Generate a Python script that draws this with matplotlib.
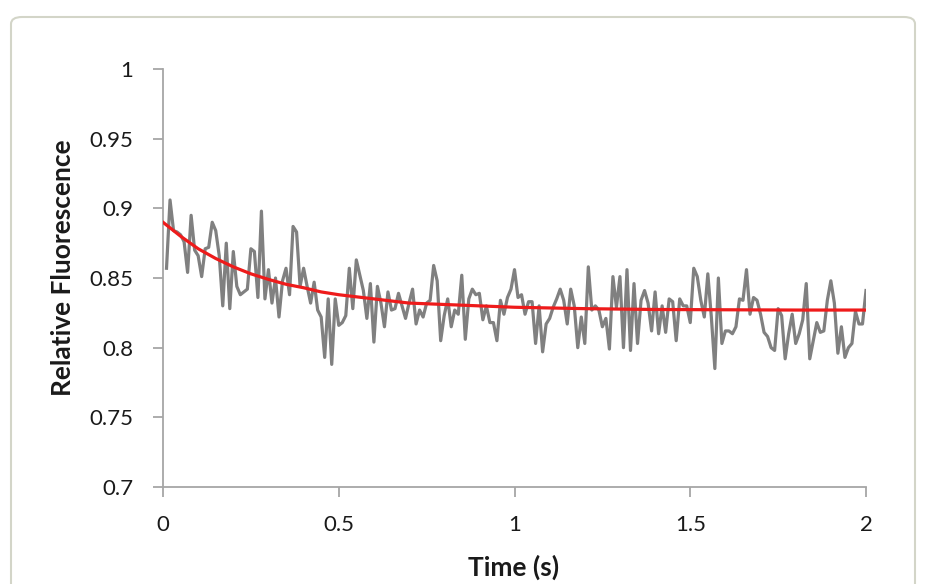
import matplotlib
matplotlib.use("Agg")
import matplotlib.pyplot as plt
import numpy as np
from matplotlib.patches import FancyBboxPatch

# measured trace, one sample every 10 ms (0.01 .. 2.00 s)
time_s = np.round(np.arange(1, 201) * 0.01, 2)
fluor = [
    0.857, 0.906, 0.884, 0.883, 0.881, 0.876, 0.854, 0.895, 0.870, 0.866,
    0.851, 0.871, 0.872, 0.890, 0.884, 0.866, 0.830, 0.875, 0.828, 0.869,
    0.844, 0.838, 0.840, 0.842, 0.871, 0.869, 0.836, 0.898, 0.835, 0.856,
    0.832, 0.850, 0.822, 0.848, 0.857, 0.838, 0.887, 0.883, 0.844, 0.857,
    0.844, 0.832, 0.847, 0.827, 0.822, 0.793, 0.835, 0.788, 0.835, 0.816,
    0.818, 0.823, 0.857, 0.828, 0.863, 0.852, 0.841, 0.821, 0.846, 0.804,
    0.844, 0.832, 0.815, 0.840, 0.827, 0.828, 0.839, 0.830, 0.821, 0.832,
    0.842, 0.817, 0.827, 0.822, 0.832, 0.834, 0.859, 0.848, 0.805, 0.823,
    0.835, 0.815, 0.827, 0.824, 0.852, 0.806, 0.835, 0.842, 0.838, 0.839,
    0.820, 0.830, 0.818, 0.818, 0.805, 0.834, 0.824, 0.836, 0.842, 0.856,
    0.836, 0.838, 0.824, 0.833, 0.833, 0.803, 0.830, 0.797, 0.817, 0.821,
    0.829, 0.835, 0.842, 0.834, 0.817, 0.842, 0.830, 0.800, 0.822, 0.803,
    0.858, 0.827, 0.830, 0.827, 0.815, 0.821, 0.799, 0.851, 0.829, 0.851,
    0.800, 0.856, 0.798, 0.846, 0.803, 0.834, 0.841, 0.832, 0.812, 0.840,
    0.810, 0.830, 0.811, 0.835, 0.833, 0.805, 0.835, 0.830, 0.830, 0.818,
    0.857, 0.851, 0.834, 0.822, 0.853, 0.822, 0.785, 0.850, 0.803, 0.812,
    0.812, 0.810, 0.815, 0.835, 0.834, 0.856, 0.824, 0.836, 0.834, 0.824,
    0.811, 0.808, 0.800, 0.798, 0.828, 0.823, 0.792, 0.810, 0.824, 0.803,
    0.810, 0.820, 0.846, 0.792, 0.805, 0.818, 0.811, 0.812, 0.834, 0.848,
    0.832, 0.796, 0.815, 0.793, 0.800, 0.803, 0.826, 0.817, 0.817, 0.841,
]

# fitted decay curve
fit_t = [0, 0.05, 0.1, 0.15, 0.2, 0.25, 0.3, 0.35, 0.4, 0.45, 0.5,
         0.6, 0.7, 0.8, 0.9, 1.0, 1.2, 1.4, 1.6, 1.8, 2.0]
fit_y = [0.890, 0.880, 0.871, 0.864, 0.858, 0.853, 0.849, 0.8455, 0.843, 0.840, 0.838,
         0.835, 0.832, 0.831, 0.830, 0.829, 0.828, 0.8274, 0.8272, 0.827, 0.827]

x_ticks = [0, 0.5, 1, 1.5, 2]
x_labels = ["0", "0.5", "1", "1.5", "2"]
y_ticks = [0.7, 0.75, 0.8, 0.85, 0.9, 0.95, 1]
y_labels = ["0.7", "0.75", "0.8", "0.85", "0.9", "0.95", "1"]

plt.rcParams['font.family'] = ['Lato', 'DejaVu Sans']

W, H = 925, 584
fig = plt.figure(figsize=(W / 100, H / 100), dpi=100)

# light rounded frame around the chart (kept behind the axes)
frame = FancyBboxPatch((11 / W, -0.05), 904 / W, 1 - 17 / H + 0.05,
                       boxstyle="round,pad=0,rounding_size=0.012",
                       transform=fig.transFigure, facecolor="white",
                       edgecolor="#d3d5c8", linewidth=1.5, zorder=-10)
fig.patches.append(frame)

ax = fig.add_axes([163 / W, 1 - 487 / H, 703 / W, 418 / H])
ax.set_facecolor("none")
ax.set_zorder(5)

ax.plot(time_s, fluor, color="#808080", linewidth=2.3, zorder=2)
ax.plot(fit_t, fit_y, color="#ee1b1b", linewidth=2.3, zorder=3)

ax.set_xlim(0, 2)
ax.set_ylim(0.7, 1)
ax.set_xticks(x_ticks)
ax.set_xticklabels(x_labels)
ax.set_yticks(y_ticks)
ax.set_yticklabels(y_labels)

for side in ["top", "right"]:
    ax.spines[side].set_visible(False)
for side in ["left", "bottom"]:
    ax.spines[side].set_color("#a6a6a6")
    ax.spines[side].set_linewidth(1.3)

ax.tick_params(axis="both", direction="out", color="#a6a6a6", width=1.3,
               length=7, labelsize=16, labelcolor="#1a1a1a")
ax.tick_params(axis="y", pad=14.5)
ax.tick_params(axis="x", pad=13)

# axis titles placed where the reference has them
fig.text(514 / W, 1 - 567 / H, "Time (s)", fontsize=19, fontweight="bold",
         color="#1a1a1a", ha="center", va="center")
fig.text(63 / W, 1 - 268 / H, "Relative Fluorescence", fontsize=19, fontweight="bold",
         color="#1a1a1a", ha="center", va="center", rotation=90)

fig.savefig("out.png", dpi=100)
